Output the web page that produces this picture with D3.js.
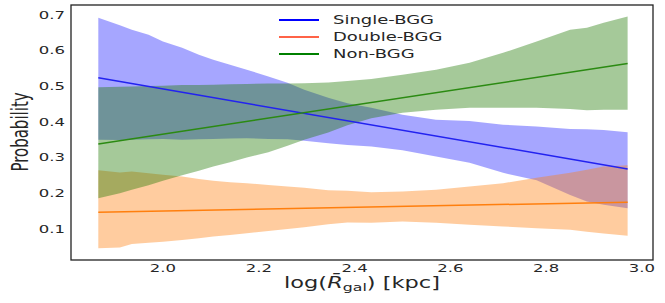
<!DOCTYPE html>
<html>
<head>
<meta charset="utf-8">
<script src="https://cdn.jsdelivr.net/npm/d3@7"></script>
<style>
  body { margin: 0; background: #fff; }
  text { font-family: "DejaVu Sans", sans-serif; fill: #262626; }
</style>
</head>
<body>
<svg width="665" height="303"></svg>
<script>
var xs = [1.865, 1.91, 1.935, 1.97, 2.0, 2.04, 2.075, 2.105, 2.14, 2.175, 2.22, 2.26, 2.295,
          2.345, 2.385, 2.435, 2.5, 2.57, 2.64, 2.71, 2.78, 2.85, 2.885, 2.92, 2.97];

var singleHi = [0.691, 0.670, 0.658, 0.644, 0.625, 0.607, 0.588, 0.574, 0.560, 0.546, 0.527, 0.509, 0.490,
                0.467, 0.452, 0.439, 0.420, 0.406, 0.402, 0.392, 0.387, 0.380, 0.379, 0.377, 0.371];
var singleLo = [0.350, 0.349, 0.350, 0.351, 0.352, 0.350, 0.351, 0.352, 0.353, 0.354, 0.352, 0.351, 0.347,
                0.340, 0.335, 0.331, 0.320, 0.303, 0.285, 0.257, 0.236, 0.195, 0.177, 0.168, 0.158];

var doubleHi = [0.264, 0.258, 0.261, 0.256, 0.252, 0.247, 0.240, 0.235, 0.231, 0.228, 0.223, 0.219, 0.215,
                0.208, 0.207, 0.203, 0.205, 0.210, 0.219, 0.228, 0.243, 0.257, 0.266, 0.275, 0.278];
var doubleLo = [0.046, 0.048, 0.058, 0.061, 0.064, 0.069, 0.074, 0.079, 0.083, 0.088, 0.094, 0.100, 0.105,
                0.113, 0.118, 0.117, 0.121, 0.117, 0.112, 0.107, 0.102, 0.098, 0.092, 0.087, 0.081];

var nonHi = [0.497, 0.498, 0.499, 0.500, 0.501, 0.503, 0.503, 0.504, 0.505, 0.506, 0.507, 0.507, 0.508,
             0.510, 0.514, 0.520, 0.532, 0.546, 0.565, 0.593, 0.625, 0.658, 0.663, 0.677, 0.695];
var nonLo = [0.186, 0.200, 0.210, 0.222, 0.235, 0.250, 0.263, 0.275, 0.287, 0.300, 0.315, 0.333, 0.350,
             0.370, 0.390, 0.410, 0.425, 0.434, 0.439, 0.439, 0.439, 0.436, 0.432, 0.434, 0.434];

// the mean curves are straight lines: read at both ends
var lineX = [1.865, 2.97];
var singleMean = [0.523, 0.268];
var doubleMean = [0.147, 0.175];
var nonMean = [0.338, 0.563];

var xTicks = [2.0, 2.2, 2.4, 2.6, 2.8, 3.0];
var yTicks = [0.1, 0.2, 0.3, 0.4, 0.5, 0.6, 0.7];
var labels = ["Single-BGG", "Double-BGG", "Non-BGG"];

var svg = d3.select("svg"),
    margin = {top: 5, right: 12, bottom: 43, left: 71},
    width = +svg.attr("width") - margin.left - margin.right,
    height = +svg.attr("height") - margin.top - margin.bottom,
    g = svg.append("g").attr("transform", "translate(" + margin.left + "," + margin.top + ")");

// the picture is stretched sideways, so every text is too
var stretch = "scale(1.5,1)";

var x = d3.scaleLinear().domain([1.808, 3.023]).range([0, width]);
var y = d3.scaleLinear().domain([0.013, 0.727]).range([height, 0]);

var bands = [
  {hi: singleHi, lo: singleLo, fill: "rgb(0,0,255)", op: 0.35},
  {hi: doubleHi, lo: doubleLo, fill: "rgb(255,127,14)", op: 0.4},
  {hi: nonHi, lo: nonLo, fill: "rgb(30,120,0)", op: 0.4}
];

var area = d3.area()
    .x(function(d) { return x(d.x); })
    .y0(function(d) { return y(d.lo); })
    .y1(function(d) { return y(d.hi); });

bands.forEach(function(b) {
  var pts = xs.map(function(v, i) { return {x: v, lo: b.lo[i], hi: b.hi[i]}; });
  g.append("path")
      .datum(pts)
      .attr("d", area)
      .attr("fill", b.fill)
      .attr("fill-opacity", b.op);
});

var line = d3.line()
    .x(function(d) { return x(d.x); })
    .y(function(d) { return y(d.y); });

var means = [
  {vals: singleMean, color: "#2222f0"},
  {vals: doubleMean, color: "#ff7f0e"},
  {vals: nonMean, color: "#2b8a12"}
];

means.forEach(function(m) {
  g.append("path")
      .datum(lineX.map(function(v, i) { return {x: v, y: m.vals[i]}; }))
      .attr("d", line)
      .attr("fill", "none")
      .attr("stroke", m.color)
      .attr("stroke-width", 1.5);
});

// frame
g.append("rect")
    .attr("width", width)
    .attr("height", height)
    .attr("fill", "none")
    .attr("stroke", "#222")
    .attr("stroke-width", 1.3);

// tick labels, no tick marks
g.selectAll(".xtick")
    .data(xTicks)
  .enter().append("text")
    .attr("class", "xtick")
    .attr("transform", function(d) { return "translate(" + x(d) + "," + (height + 12) + ") " + stretch; })
    .attr("text-anchor", "middle")
    .style("font-size", "11px")
    .text(function(d) { return d3.format(".1f")(d); });

g.selectAll(".ytick")
    .data(yTicks)
  .enter().append("text")
    .attr("class", "ytick")
    .attr("transform", function(d) { return "translate(-6," + y(d) + ") " + stretch; })
    .attr("text-anchor", "end")
    .attr("dy", "0.36em")
    .style("font-size", "11px")
    .text(function(d) { return d3.format(".1f")(d); });

// axis titles
var xl = svg.append("text")
    .attr("transform", "translate(362,288) " + stretch)
    .attr("text-anchor", "middle")
    .style("font-size", "15px");
xl.append("tspan").text("log(");
xl.append("tspan").style("font-style", "italic").text("R\u0304");
xl.append("tspan").attr("dy", 3).style("font-size", "10.5px").text("gal");
xl.append("tspan").attr("dy", -3).text(") [kpc]");

svg.append("text")
    .attr("transform", "translate(20,132) " + stretch + " rotate(-90)")
    .attr("text-anchor", "middle")
    .attr("dy", "0.35em")
    .style("font-size", "15px")
    .text("Probability");

// legend
var legendColors = ["#0000ff", "#ff6347", "#008000"];
var legend = svg.append("g").attr("transform", "translate(279,20)");

labels.forEach(function(lab, i) {
  legend.append("line")
      .attr("x1", 0).attr("x2", 40)
      .attr("y1", i * 17).attr("y2", i * 17)
      .attr("stroke", legendColors[i])
      .attr("stroke-width", 2.2);
  legend.append("text")
      .attr("transform", "translate(54," + (i * 17) + ") " + stretch)
      .attr("dy", "0.36em")
      .style("font-size", "12px")
      .text(lab);
});
</script>
</body>
</html>
